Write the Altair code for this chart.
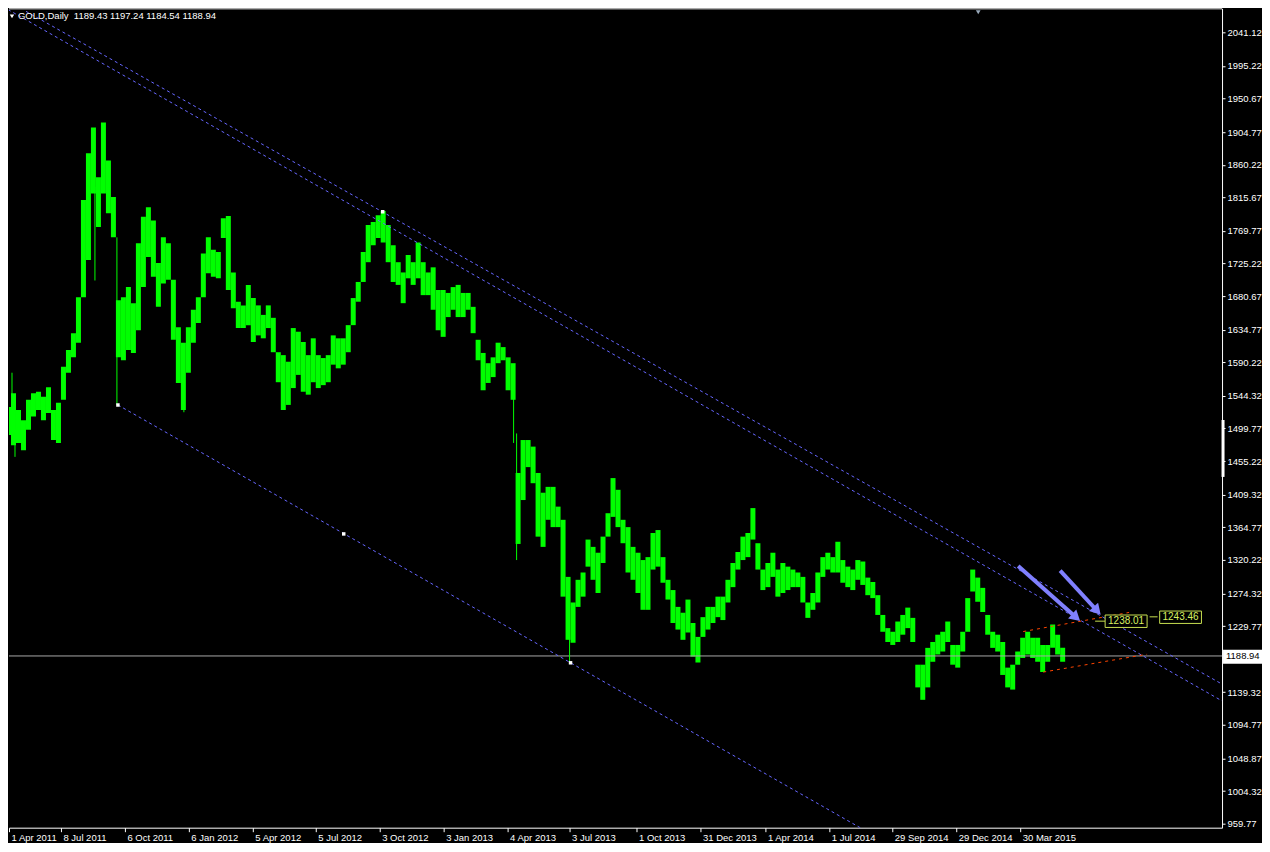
import altair as alt
import pandas as pd

W, H = 1214, 820
X_DOMAIN = [8, 1222]
Y_DOMAIN = [954.3, 2073.9]
FONT = "Liberation Sans"

# ---- GOLD daily, grouped by 5 bars (one week): high / low ----
week_high = [1507, 1529, 1548, 1525, 1511, 1539, 1548, 1550, 1543, 1556, 1525, 1535, 1584, 1607, 1630, 1679,
             1812, 1876, 1911, 1843, 1918, 1866, 1816, 1675, 1679, 1693, 1671, 1753, 1789, 1802, 1784, 1726,
             1761, 1753, 1703, 1638, 1617, 1638, 1662, 1679, 1739, 1761, 1744, 1741, 1787, 1790, 1713, 1673,
             1668, 1696, 1678, 1668, 1655, 1668, 1651, 1604, 1600, 1591, 1637, 1632, 1618, 1600, 1623, 1600,
             1596, 1600, 1627, 1623, 1623, 1641, 1678, 1700, 1741, 1778, 1782, 1791, 1797, 1778, 1750, 1727,
             1713, 1737, 1727, 1754, 1727, 1713, 1720, 1689, 1689, 1685, 1693, 1696, 1685, 1685, 1666, 1621,
             1603, 1589, 1597, 1617, 1611, 1597, 1589, 1439, 1484, 1484, 1475, 1439, 1412, 1420, 1420, 1393,
             1375, 1297, 1262, 1293, 1303, 1348, 1338, 1330, 1352, 1384, 1432, 1416, 1375, 1365, 1338, 1330,
             1320, 1324, 1357, 1361, 1324, 1293, 1279, 1256, 1248, 1266, 1234, 1215, 1242, 1256, 1256, 1270,
             1270, 1293, 1316, 1331, 1352, 1357, 1391, 1343, 1307, 1316, 1330, 1307, 1316, 1311, 1307, 1303,
             1297, 1262, 1275, 1303, 1324, 1330, 1324, 1345, 1320, 1311, 1307, 1320, 1318, 1296, 1290, 1272,
             1245, 1227, 1222, 1236, 1245, 1255, 1241, 1177, 1177, 1200, 1208, 1218, 1222, 1236, 1204, 1204,
             1222, 1268, 1307, 1296, 1282, 1245, 1222, 1218, 1208, 1173, 1177, 1195, 1214, 1222, 1214, 1214,
             1204, 1204, 1232, 1218, 1200]
week_low = [1470, 1491, 1477, 1480, 1470, 1498, 1516, 1525, 1511, 1521, 1484, 1480, 1539, 1576, 1597, 1617,
            1679, 1730, 1821, 1775, 1821, 1794, 1761, 1597, 1593, 1607, 1603, 1634, 1693, 1734, 1707, 1666,
            1698, 1703, 1621, 1562, 1525, 1576, 1617, 1644, 1679, 1712, 1707, 1705, 1760, 1689, 1664, 1637,
            1637, 1641, 1618, 1627, 1623, 1637, 1604, 1563, 1525, 1532, 1555, 1573, 1550, 1546, 1563, 1555,
            1559, 1563, 1587, 1582, 1587, 1604, 1641, 1673, 1700, 1727, 1750, 1760, 1754, 1727, 1700, 1696,
            1671, 1705, 1696, 1705, 1682, 1682, 1662, 1634, 1625, 1652, 1662, 1652, 1652, 1662, 1630, 1593,
            1552, 1562, 1570, 1589, 1593, 1552, 1539, 1342, 1402, 1447, 1425, 1352, 1338, 1375, 1365, 1365,
            1270, 1211, 1207, 1256, 1270, 1311, 1293, 1275, 1316, 1352, 1379, 1365, 1343, 1303, 1293, 1275,
            1252, 1252, 1307, 1311, 1289, 1266, 1234, 1225, 1211, 1221, 1188, 1180, 1215, 1225, 1234, 1242,
            1238, 1262, 1283, 1307, 1320, 1324, 1348, 1307, 1279, 1283, 1297, 1270, 1275, 1279, 1283, 1283,
            1262, 1241, 1252, 1262, 1297, 1307, 1303, 1303, 1289, 1283, 1279, 1293, 1286, 1272, 1268, 1245,
            1222, 1208, 1204, 1208, 1218, 1227, 1208, 1146, 1129, 1146, 1181, 1191, 1195, 1208, 1177, 1173,
            1195, 1222, 1277, 1263, 1249, 1218, 1200, 1195, 1163, 1146, 1143, 1177, 1186, 1191, 1186, 1181,
            1167, 1181, 1200, 1191, 1181]
BARS_PER_WEEK = 5

# single long daily bars (wicks) that stand out of the weekly band
spike_bar = [11, 14, 94, 116, 183, 513, 516, 569]
spike_high = [1576, 1500, 1830, 1761, 1560, 1546, 1493, 1215]
spike_low = [1540, 1461, 1702, 1532, 1522, 1480, 1320, 1181]

# ---- objects drawn on the chart (bar index, price) ----
blue_lines = {
    "upper trend": [(25, 2069.8), (1226, 1147.4)],
    "channel top": [(7, 2072.2), (1226, 1124.4)],
    "channel bottom": [(117, 1531.9), (880, 938.6)],
}
red_lines = {
    "range top": [(1023, 1222.3), (1129, 1248.4)],
    "range bottom": [(1043, 1166.9), (1147, 1191.3)],
}
anchor_bar = [117, 343, 570, 382]
anchor_price = [1531.9, 1355.7, 1179.6, 1795.8]

arrows = {
    "a1": {"tail": (1018, 1312.0), "head": (1076, 1241.5), "angle": 41.6},
    "a2": {"tail": (1060, 1305.6), "head": (1097, 1250.7), "angle": 47.7},
}

price_labels = ["1238.01", "1243.46"]
label_x = [1105, 1159.6]
label_x2 = [1147, 1201.4]
label_top = [1244.9, 1250.3]
label_bottom = [1227.9, 1233.4]
leader_x = [1095, 1149.5]
leader_x2 = [1105, 1157.5]
leader_price = [1236.5, 1242.4]

last_price = 1188.94
ohlc_title = "GOLD,Daily\u00a0 1189.43 1197.24 1184.54 1188.94"

# thicker part of the price scale line (visible price range marker)
scale_mark = [1511.4, 1433.6]

y_ticks = [2041.12, 1995.22, 1950.67, 1904.77, 1860.22, 1815.67, 1769.77, 1725.22, 1680.67, 1634.77,
           1590.22, 1544.32, 1499.77, 1455.22, 1409.32, 1364.77, 1320.22, 1274.32, 1229.77, 1139.32,
           1094.77, 1048.87, 1004.32, 959.77]
x_ticks = [8, 60, 124, 188, 252, 315, 379, 443, 507, 569, 636, 700, 765, 829, 892, 956, 1020]
x_labels = ["1 Apr 2011", "8 Jul 2011", "6 Oct 2011", "6 Jan 2012", "5 Apr 2012", "5 Jul 2012",
            "3 Oct 2012", "3 Jan 2013", "4 Apr 2013", "3 Jul 2013", "1 Oct 2013", "31 Dec 2013",
            "1 Apr 2014", "1 Jul 2014", "29 Sep 2014", "29 Dec 2014", "30 Mar 2015"]

# ---- tables ----
bars = pd.DataFrame({
    "week": list(range(len(week_high))),
    "high": week_high,
    "low": week_low,
})
spikes = pd.DataFrame({"bar": spike_bar, "high": spike_high, "low": spike_low})


def lines_df(d):
    rows = []
    for k, pts in d.items():
        for i, (b, p) in enumerate(pts):
            rows.append({"id": k, "order": i, "bar": b, "price": p})
    return pd.DataFrame(rows)


blue_df = lines_df(blue_lines)
red_df = lines_df(red_lines)
anchors = pd.DataFrame({"bar": anchor_bar, "price": anchor_price})
shaft_df = lines_df({k: [v["tail"], v["head"]] for k, v in arrows.items()})
heads_df = pd.DataFrame({
    "bar": [v["head"][0] for v in arrows.values()],
    "price": [v["head"][1] for v in arrows.values()],
    "angle": [v["angle"] for v in arrows.values()],
})
labels_df = pd.DataFrame({
    "text": price_labels, "x": label_x, "x2": label_x2,
    "top": label_top, "bottom": label_bottom,
    "xc": [(a + b) / 2 for a, b in zip(label_x, label_x2)],
    "yc": [(a + b) / 2 for a, b in zip(label_top, label_bottom)],
    "lx": leader_x, "lx2": leader_x2, "lp": leader_price,
})
last_df = pd.DataFrame({"price": [last_price], "top": [1197.4], "bottom": [1178.2],
                        "text": [f"{last_price:.2f}"],
                        "mark_top": [scale_mark[0]], "mark_bottom": [scale_mark[1]]})

xscale = alt.Scale(domain=X_DOMAIN, nice=False, zero=False)
yscale = alt.Scale(domain=Y_DOMAIN, nice=False, zero=False)

label_expr = ("[" + ",".join(f"'{s}'" for s in x_labels) + "][indexof(["
              + ",".join(str(v) for v in x_ticks) + "], datum.value)]")

x_axis = alt.Axis(values=x_ticks, labelExpr=label_expr, title=None, grid=False,
                  labelAlign="left", labelOffset=2, labelFlush=False, labelOverlap=False,
                  labelColor="white", labelFont=FONT, labelFontSize=9.5, labelPadding=1,
                  tickColor="white", tickSize=4, domainColor="white", labelBaseline="top")
y_axis = alt.Axis(values=y_ticks, format=".2f", orient="right", title=None, grid=False,
                  labelColor="white", labelFont=FONT, labelFontSize=9.5, labelPadding=2,
                  tickColor="white", tickSize=3, domainColor="white", labelFlush=False,
                  labelOverlap=False, labelBaseline="middle")


def X(f):
    return alt.X(f, type="quantitative", scale=xscale, axis=x_axis)


def Y(f):
    return alt.Y(f, type="quantitative", scale=yscale, axis=y_axis)


price_line = alt.Chart(last_df).mark_rule(color="#a8a8a8", strokeWidth=1).encode(y=Y("price"))

bar_layer = alt.Chart(bars).transform_calculate(
    x0=f"datum.week * {BARS_PER_WEEK}", x1=f"datum.week * {BARS_PER_WEEK} + {BARS_PER_WEEK}"
).mark_rect(color="#00ff00", clip=True).encode(
    x=X("x0"), x2="x1:Q", y=Y("low"), y2="high:Q",
)

spike_layer = alt.Chart(spikes).mark_rule(color="#00ff00", strokeWidth=1, clip=True).encode(
    x=X("bar"), y=Y("low"), y2="high")

blue_layer = alt.Chart(blue_df).mark_line(color="#6666ff", strokeWidth=1, strokeDash=[3, 3],
                                          clip=True).encode(
    x=X("bar"), y=Y("price"), detail="id:N", order="order:Q")

red_layer = alt.Chart(red_df).mark_line(color="#ff4500", strokeWidth=1, strokeDash=[3, 4],
                                        clip=True).encode(
    x=X("bar"), y=Y("price"), detail="id:N", order="order:Q")

anchor_layer = alt.Chart(anchors).mark_square(color="white", size=12, opacity=1, clip=True).encode(
    x=X("bar"), y=Y("price"))

shaft_layer = alt.Chart(shaft_df).mark_line(color="#8080ff", strokeWidth=4, clip=True).encode(
    x=X("bar"), y=Y("price"), detail="id:N", order="order:Q")

head_layer = alt.Chart(heads_df).mark_point(shape="triangle-right", filled=True, color="#8080ff",
                                            size=150, opacity=1, clip=True).encode(
    x=X("bar"), y=Y("price"), angle=alt.Angle("angle:Q", scale=None))

leader_layer = alt.Chart(labels_df).mark_rule(color="#c8e050", clip=True).encode(
    x=X("lx"), x2="lx2", y=Y("lp"))

box_layer = alt.Chart(labels_df).mark_rect(fill="#000000", stroke="#c8e050", strokeWidth=1,
                                           clip=True).encode(
    x=X("x"), x2="x2", y=Y("bottom"), y2="top")

box_text = alt.Chart(labels_df).mark_text(color="#d8f060", font=FONT, fontSize=10, align="center",
                                          baseline="middle", clip=True).encode(
    x=X("xc"), y=Y("yc"), text="text:N")

last_box = alt.Chart(last_df).mark_rect(fill="white", clip=False).encode(
    x=alt.value(W + 1), x2=alt.value(W + 40), y=Y("bottom"), y2="top")

last_text = alt.Chart(last_df).mark_text(color="black", font=FONT, fontSize=9.5, align="left",
                                         baseline="middle").encode(
    x=alt.value(W + 4), y=Y("price"), text="text:N")

scale_thick = alt.Chart(last_df).mark_rule(color="white", strokeWidth=3, clip=False).encode(
    x=alt.value(W + 1), y=Y("mark_bottom"), y2="mark_top")

top_border = alt.Chart(last_df).mark_rule(color="white").encode(
    x=alt.value(0), x2=alt.value(W), y=alt.value(0.5))

title_text = alt.Chart(last_df).mark_text(color="white", font=FONT, fontSize=9.5, align="left",
                                          baseline="middle", text=ohlc_title).encode(
    x=alt.value(9), y=alt.value(8))

title_tri = alt.Chart(last_df).mark_point(shape="triangle-down", filled=True, color="white",
                                          size=20, opacity=1).encode(
    x=alt.value(3), y=alt.value(8))

shift_marker = alt.Chart(last_df).mark_point(shape="triangle-down", filled=True, color="#9aaabb",
                                             size=22, opacity=1).encode(
    x=alt.value(970), y=alt.value(4))

chart = alt.layer(
    bar_layer, price_line, spike_layer, blue_layer, red_layer, anchor_layer,
    shaft_layer, head_layer, leader_layer, box_layer, box_text,
    last_box, last_text, scale_thick, top_border, title_tri, title_text, shift_marker,
).properties(
    width=W, height=H, padding=0, background="#000000"
).configure_view(stroke=None, fill="#000000")

chart.save("out.html", embed_options={"renderer": "svg", "actions": False})
